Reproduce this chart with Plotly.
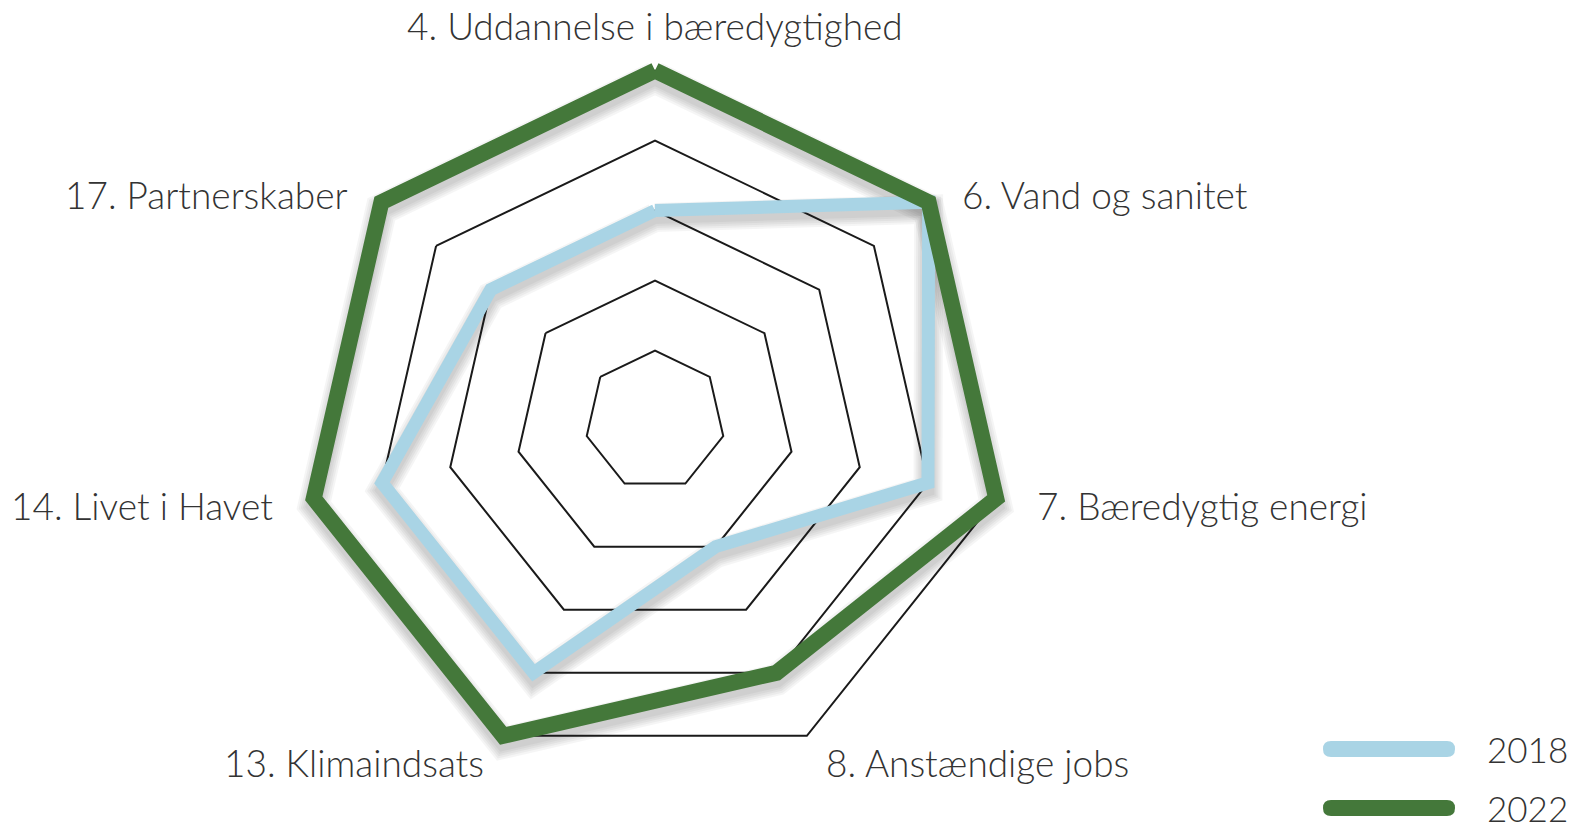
import math
import plotly.graph_objects as go

# Categories (SDG goals) and scores per year
categories = [
    "4. Uddannelse i bæredygtighed",
    "6. Vand og sanitet",
    "7. Bæredygtig energi",
    "8. Anstændige jobs",
    "13. Klimaindsats",
    "14. Livet i Havet",
    "17. Partnerskaber",
]
scores_2018 = [3, 5, 4, 2, 4, 4, 3]
scores_2022 = [5, 5, 5, 4, 5, 5, 5]
years = ["2018", "2022"]
ring_values = [1, 2, 3, 4, 5]

W, H = 1573, 829
BLUE = "#A9D4E5"
GREEN = "#44783A"
TEXT = "#333333"
LABEL_FONT = dict(family="Lato", size=37, color=TEXT, weight=300)
LEGEND_FONT = dict(family="Lato", size=35, color=TEXT, weight=300)

# polar area in pixels: centre and radius of the outer ring (score 5)
CX, CY, R = 655, 420.5, 350
SCORE_MAX = 5
# radial range runs a bit past the top score so thick lines are not clipped
RANGE_MAX = 5.35
R_AXIS = R * RANGE_MAX / SCORE_MAX
SHADOW_DY = 7
LABEL_PAD_X = 40
LABEL_PAD_Y_LOW = 30
LABEL_PAD_Y_HIGH = 12
LABEL_PAD_TOP = 45


def closed(vals):
    return list(vals) + [vals[0]]


cats_closed = closed(categories)


def polar_domain(dy=0.0):
    return dict(
        x=[(CX - R_AXIS) / W, (CX + R_AXIS) / W],
        y=[1 - (CY + R_AXIS + dy) / H, 1 - (CY - R_AXIS + dy) / H],
    )


fig = go.Figure()

# soft drop shadow, drawn in an offset copy of the polar area
for values, width in ((scores_2018, 13), (scores_2022, 16)):
    for k in range(5):
        fig.add_trace(go.Scatterpolar(
            r=closed(values), theta=cats_closed, mode="lines",
            line=dict(color="rgba(0,0,0,0.04)", width=width + 4 * k),
            subplot="polar", showlegend=False, hoverinfo="skip",
        ))

# main series
for values, color, width, name in ((scores_2018, BLUE, 13, years[0]),
                                   (scores_2022, GREEN, 16, years[1])):
    fig.add_trace(go.Scatterpolar(
        r=closed(values), theta=cats_closed, mode="lines", name=name,
        line=dict(color=color, width=width),
        subplot="polar2", showlegend=False,
    ))

fig.update_layout(
    width=W, height=H,
    margin=dict(l=0, r=0, t=0, b=0, pad=0),
    paper_bgcolor="white",
    plot_bgcolor="white",
    font=LABEL_FONT,
    polar=dict(
        domain=polar_domain(SHADOW_DY),
        bgcolor="rgba(0,0,0,0)",
        gridshape="linear",
        radialaxis=dict(range=[0, RANGE_MAX], visible=False),
        angularaxis=dict(type="category", categoryarray=categories,
                         direction="clockwise", rotation=90, visible=False),
    ),
    polar2=dict(
        domain=polar_domain(0),
        bgcolor="rgba(0,0,0,0)",
        gridshape="linear",
        radialaxis=dict(
            range=[0, RANGE_MAX], tickvals=ring_values, showticklabels=False,
            ticks="", showline=False, showgrid=True, gridcolor="#1a1a1a",
            gridwidth=1.5, layer="below traces",
        ),
        angularaxis=dict(
            type="category", categoryarray=categories, direction="clockwise",
            rotation=90, showgrid=False, showline=False, showticklabels=False,
            ticks="", layer="below traces",
        ),
    ),
)

# category labels placed just outside each spoke of the polar area
n = len(categories)
for i, label in enumerate(categories):
    ang = 2 * math.pi * i / n
    dx, dy = math.sin(ang), -math.cos(ang)
    if abs(dx) < 0.1:
        px, py = CX, CY + (R + LABEL_PAD_TOP) * dy
        xanchor = "center"
    else:
        pad_y = LABEL_PAD_Y_LOW if dy > 0 else LABEL_PAD_Y_HIGH
        px = CX + (R + LABEL_PAD_X) * dx
        py = CY + (R + pad_y) * dy
        xanchor = "left" if dx > 0 else "right"
    fig.add_annotation(x=px / W, y=1 - py / H, xref="paper", yref="paper",
                       text=label, showarrow=False, xanchor=xanchor,
                       yanchor="middle", font=LABEL_FONT)


# legend: rounded bars with year labels
def pill_path(x0, x1, yc, h):
    r = h / 2
    pts = [
        ("M", (x0 + r, yc - r)), ("L", (x1 - r, yc - r)),
        ("Q", (x1, yc - r), (x1, yc)), ("Q", (x1, yc + r), (x1 - r, yc + r)),
        ("L", (x0 + r, yc + r)),
        ("Q", (x0, yc + r), (x0, yc)), ("Q", (x0, yc - r), (x0 + r, yc - r)),
    ]
    parts = []
    for cmd, *coords in pts:
        txt = " ".join(f"{x / W:.5f},{1 - y / H:.5f}" for x, y in coords)
        parts.append(f"{cmd}{txt}")
    return " ".join(parts) + " Z"


LEG_X0, LEG_X1, LEG_TX = 1323, 1455, 1485
LEG_Y = [749, 808]
for name, color, yc in zip(years, (BLUE, GREEN), LEG_Y):
    fig.add_shape(type="path", path=pill_path(LEG_X0, LEG_X1, yc, 16),
                  xref="paper", yref="paper", fillcolor=color, line=dict(width=0))
    fig.add_annotation(x=LEG_TX / W, y=1 - yc / H, xref="paper", yref="paper",
                       text=name, showarrow=False, xanchor="left", yanchor="middle",
                       font=LEGEND_FONT)

fig.write_html("out.html")
